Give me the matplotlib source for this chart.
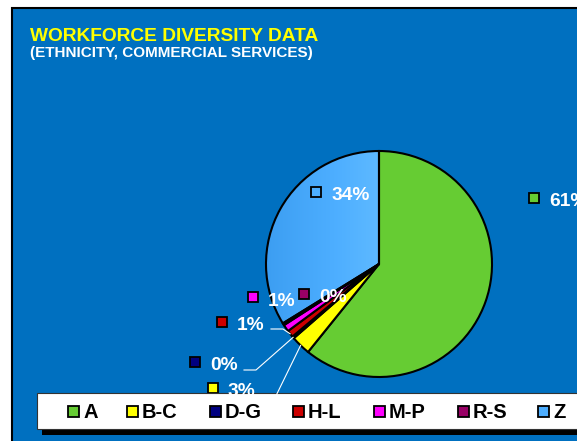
import matplotlib.pyplot as plt
import numpy as np
from matplotlib.patches import Rectangle
from matplotlib.colors import LinearSegmentedColormap

plt.rcParams['font.family'] = ['Liberation Sans', 'DejaVu Sans']

categories = ['A', 'B-C', 'D-G', 'H-L', 'M-P', 'R-S', 'Z']
shares = [60.8, 2.8, 0.3, 1.0, 1.0, 0.3, 33.8]
colors = ['#66CC33', '#FFFF00', '#000080', '#CC0000', '#FF00FF', '#990066', '#4DAEFF']
title = 'WORKFORCE DIVERSITY DATA'
subtitle = '(ETHNICITY, COMMERCIAL SERVICES)'

# layout, in figure pixels measured from the top-left corner
W, H = 577, 441
cx, cy, r = 379, 264, 113
label_marks = [(534, 198), (213, 388), (195, 362), (222, 322), (253, 297), (304, 294), (316, 192)]
leader_start = {1: (258, 408), 2: (244, 370), 3: (271, 329)}
legend_marks = [73, 132, 215, 298, 379, 463, 543]

fig = plt.figure(figsize=(W / 100, H / 100), dpi=100)
fig.patch.set_facecolor('white')

bg = fig.add_axes([0, 0, 1, 1])
bg.set_xlim(0, W)
bg.set_ylim(H, 0)
bg.axis('off')
bg.add_patch(Rectangle((12, 8), W + 20, H + 20, facecolor='#0070C0',
                       edgecolor='black', lw=1.5))
bg.text(30, 41, title, color='#FFFF00', fontsize=13.8, fontweight='bold', va='baseline')
bg.text(30, 57, subtitle, color='white', fontsize=11, fontweight='bold', va='baseline')

# pie
ax = fig.add_axes([(cx - r) / W, (H - cy - r) / H, 2 * r / W, 2 * r / H])
wedges, _ = ax.pie(shares, colors=colors, startangle=90, counterclock=False,
                   wedgeprops=dict(edgecolor='black', linewidth=1.5))
for w in wedges:
    w.set_clip_on(False)

# soft gradient on the Z slice
grad = np.tile(np.linspace(0, 1, 200), (200, 1))
cmap = LinearSegmentedColormap.from_list('zg', ['#3C9EF2', '#4DAEFF', '#66BFFF'])
im = ax.imshow(grad, extent=(-1, 0.2, -1, 1), cmap=cmap, zorder=0.5, aspect='auto')
im.set_clip_path(wedges[6])
wedges[6].set_facecolor('none')
ax.set_xlim(-1, 1)
ax.set_ylim(-1, 1)
ax.axis('off')

# overlay for labels and legend
ov = fig.add_axes([0, 0, 1, 1])
ov.set_xlim(0, W)
ov.set_ylim(H, 0)
ov.axis('off')
ov.patch.set_alpha(0)


def to_px(x, y):
    d = ax.transData.transform((x, y))
    return ov.transData.inverted().transform(d)


for i, (w, v) in enumerate(zip(wedges, shares)):
    mx, my = label_marks[i]
    ov.add_patch(Rectangle((mx - 5, my - 5), 10, 10, facecolor=colors[i],
                           edgecolor='black', lw=1.3))
    ov.text(mx + 15, my + 8.5, f'{round(v)}%', color='white', fontsize=13.8,
            fontweight='bold', va='baseline', clip_on=False)
    if i in leader_start:
        mid = np.deg2rad((w.theta1 + w.theta2) / 2)
        ex, ey = to_px(np.cos(mid), np.sin(mid))
        sx, sy = leader_start[i]
        ov.plot([sx, sx + 12, ex], [sy, sy, ey], color='white', lw=0.8)

# legend box with shadow
ov.add_patch(Rectangle((42, 399), W, 36, facecolor='black', edgecolor='none'))
ov.add_patch(Rectangle((37, 393), W, 36, facecolor='white', edgecolor='#333333', lw=0.8))
for i, name in enumerate(categories):
    mx = legend_marks[i]
    ov.add_patch(Rectangle((mx - 5.5, 405.5), 11, 11, facecolor=colors[i],
                           edgecolor='black', lw=1.3))
    ov.text(mx + 10, 418.5, name, color='black', fontsize=14.5, fontweight='bold',
            va='baseline')

fig.savefig('out.png', dpi=100, facecolor='white')
